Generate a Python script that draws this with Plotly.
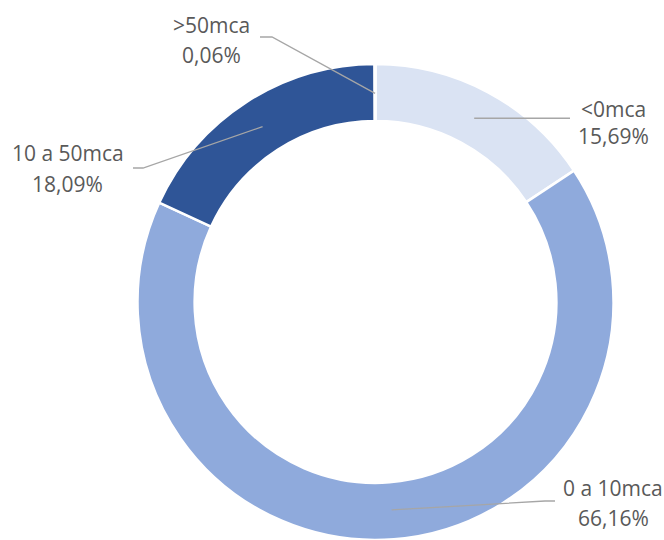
import math
import plotly.graph_objects as go

# Share of network pressure ranges (percent)
categories = ["<0mca", "0 a 10mca", "10 a 50mca", ">50mca"]
values = [15.69, 66.16, 18.09, 0.06]
value_labels = ["15,69%", "66,16%", "18,09%", "0,06%"]
colors = ["#DAE3F3", "#8FAADC", "#2F5597", "#1F3864"]

W, H = 664, 540
R_DOMAIN = 238.0           # pie radius set by its domain box
CX, CY = 375.5, H - R_DOMAIN   # donut centre in pixels (box touches the bottom edge)
R_OUT = 237.0
HOLE = 0.76
R_MID = R_OUT * (1 + HOLE) / 2

# label anchor x, first-line y, second-line y (pixels)
label_pos = {
    "<0mca": (613, 108.5, 136),
    "0 a 10mca": (613, 488, 517.5),
    "10 a 50mca": (67.5, 153, 184),
    ">50mca": (212, 25, 54.5),
}
elbows = {
    "<0mca": [(570, None)],
    "0 a 10mca": [(545, 501), (555, 501)],
    "10 a 50mca": [(143, 168), (133, 168)],
    ">50mca": [(272, 37), (260, 37)],
}


def px(x):
    return x / W


def py(y):
    return 1 - y / H


fig = go.Figure(
    go.Pie(
        labels=categories,
        values=values,
        hole=HOLE,
        sort=False,
        direction="clockwise",
        rotation=0,
        textinfo="none",
        marker=dict(colors=colors, line=dict(color="white", width=2.5)),
        domain=dict(x=[px(CX - R_DOMAIN), px(CX + R_DOMAIN)],
                    y=[0, py(CY - R_DOMAIN)]),
        showlegend=False,
    )
)

shapes = []
annotations = []
font = dict(family="Open Sans", size=21, color="#595959")
total = sum(values)
cum = 0.0
for cat, val, lab in zip(categories, values, value_labels):
    mid = (cum + val / 2) / total * 2 * math.pi
    cum += val
    ax = CX + R_MID * math.sin(mid)
    ay = CY - R_MID * math.cos(mid)
    pts = [(ax, ay)]
    for ex, ey in elbows[cat]:
        pts.append((ex, ay if ey is None else ey))
    path = "M " + " L ".join(f"{px(x):.5f},{py(y):.5f}" for x, y in pts)
    shapes.append(dict(type="path", xref="paper", yref="paper", path=path,
                       line=dict(color="#A6A6A6", width=1.3)))
    lx, ly1, ly2 = label_pos[cat]
    for text, ly in ((cat, ly1), (lab, ly2)):
        annotations.append(dict(
            x=px(lx), y=py(ly), xref="paper", yref="paper",
            text=text, showarrow=False,
            xanchor="center", yanchor="middle", font=font,
        ))

fig.update_layout(
    width=W, height=H,
    margin=dict(l=0, r=0, t=0, b=0),
    paper_bgcolor="white",
    plot_bgcolor="white",
    shapes=shapes,
    annotations=annotations,
)

fig.write_html("out.html")
